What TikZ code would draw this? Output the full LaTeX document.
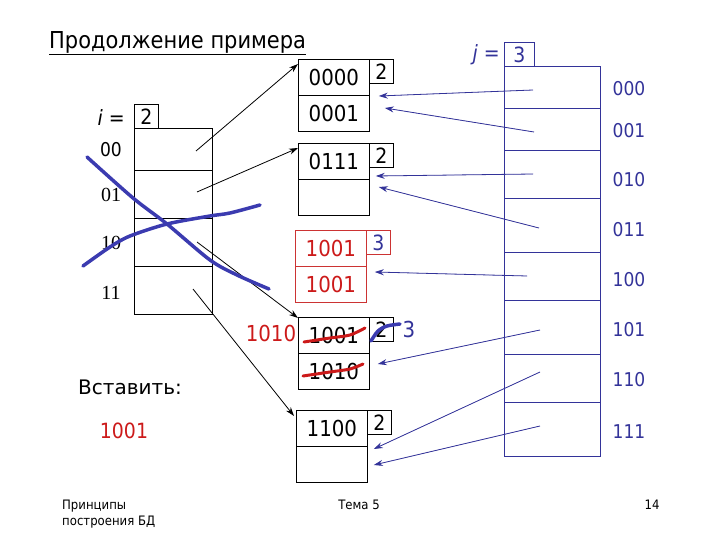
\documentclass[tikz,border=0pt]{standalone}
\usepackage{fontspec}
\setmainfont{DejaVu Sans}
\newfontfamily\numf[FakeStretch=0.9]{DejaVu Sans}
\newfontfamily\serf{Liberation Serif}
\usetikzlibrary{arrows.meta,calc}
\definecolor{navy}{HTML}{333399}
\definecolor{penc}{HTML}{3B3BB0}
\definecolor{redt}{HTML}{CC1A1A}
\definecolor{redb}{HTML}{CC3333}
\begin{document}
\begin{tikzpicture}[x=1pt,y=-1pt,
  cell/.style={draw, line width=0.8pt, minimum width=71pt, minimum height=36pt, inner sep=0pt, anchor=north west, font=\numf\fontsize{22}{22}\selectfont},
  tag/.style={draw, line width=0.8pt, minimum width=24pt, minimum height=24pt, inner sep=0pt, anchor=north west, font=\numf\fontsize{21}{21}\selectfont},
  dcell/.style={draw, line width=0.8pt, minimum width=78pt, inner sep=0pt, anchor=north west},
  rcell/.style={draw=navy, line width=0.8pt, minimum width=96pt, inner sep=0pt, anchor=north west},
  rlab/.style={text=navy, font=\numf\fontsize{19}{19}\selectfont},
  llab/.style={font=\serf\fontsize{20}{20}\selectfont},
  slab/.style={font=\numf\fontsize{19}{19}\selectfont},
  ptr/.style={line width=0.8pt, -{Stealth[length=9pt,width=6pt]}},
  bptr/.style={ptr, draw=navy, fill=navy},
  pen/.style={draw=penc, line width=3.5pt, line cap=round, line join=round},
  strike/.style={draw=redt, line width=3pt, line cap=round, line join=round},
  big/.style={font=\numf\fontsize{22}{22}\selectfont},
  small/.style={font=\numf\fontsize{13}{16}\selectfont}
]
\useasboundingbox (0,0) rectangle (720,540);

% title
\node[anchor=west, font=\numf\fontsize{23.3}{23}\selectfont, inner sep=0pt] (title) at (49,43) {\underline{Продолжение примера}};

% left directory
\node[tag] (gi) at (134,104) {2};
\node[anchor=east, font=\numf\fontsize{21}{21}\selectfont, inner sep=0pt] (ilab) at (125,118) {\textit{i} =};
\node[dcell, minimum height=42pt] (L0) at (134,128) {};
\node[dcell, minimum height=48pt] (L1) at (134,170) {};
\node[dcell, minimum height=48pt] (L2) at (134,218) {};
\node[dcell, minimum height=48pt] (L3) at (134,266) {};
\node[slab] (l00) at (111,150) {00};
\node[llab] (l01) at (111,195) {01};
\node[llab] (l10) at (111,243) {10};
\node[llab] (l11) at (111,293) {11};

% buckets
\node[cell] (A1) at (298,59) {0000};
\node[cell] (A2) at (298,95) {0001};
\node[tag] (At) at (369,59) {2};

\node[cell] (B1) at (298,143) {0111};
\node[cell] (B2) at (298,179) {};
\node[tag] (Bt) at (369,143) {2};

\node[cell, draw=redb, text=redt] (C1) at (295,230) {1001};
\node[cell, draw=redb, text=redt] (C2) at (295,266) {1001};
\node[tag, draw=redb, text=navy] (Ct) at (366,230) {3};

\node[cell] (D1) at (298,317) {1001};
\node[cell] (D2) at (298,353) {1010};
\node[tag] (Dt) at (369,317) {2};

\node[cell] (E1) at (296,410) {1100};
\node[cell] (E2) at (296,446) {};
\node[tag] (Et) at (367,410) {2};

\node[big, text=redt] (ins1010) at (271,333) {1010};
\node[big, text=navy] (new3) at (409,329) {3};

% right directory
\node[tag, draw=navy, text=navy, minimum width=30pt, minimum height=24pt] (gj) at (504,42) {3};
\node[anchor=east, font=\numf\fontsize{21}{21}\selectfont, text=navy, inner sep=0pt] (jlab) at (500,55) {\textit{j} =};
\node[rcell, minimum height=42pt] (R0) at (504,66) {};
\node[rcell, minimum height=42pt] (R1) at (504,108) {};
\node[rcell, minimum height=48pt] (R2) at (504,150) {};
\node[rcell, minimum height=54pt] (R3) at (504,198) {};
\node[rcell, minimum height=48pt] (R4) at (504,252) {};
\node[rcell, minimum height=54pt] (R5) at (504,300) {};
\node[rcell, minimum height=48pt] (R6) at (504,354) {};
\node[rcell, minimum height=54pt] (R7) at (504,402) {};
\node[rlab] (r000) at (629,89) {000};
\node[rlab] (r001) at (629,131) {001};
\node[rlab] (r010) at (629,180) {010};
\node[rlab] (r011) at (629,230) {011};
\node[rlab] (r100) at (629,280) {100};
\node[rlab] (r101) at (629,330) {101};
\node[rlab] (r110) at (629,380) {110};
\node[rlab] (r111) at (629,432) {111};

% black pointers
\coordinate (s0) at (196,151);
\coordinate (s1) at (197,192);
\coordinate (s2) at (197,242);
\coordinate (s3) at (193,289);
\draw[ptr] (s0) -- ([yshift=-5pt]A1.north west);
\draw[ptr] (s1) -- ([yshift=-5pt]B1.north west);
\draw[ptr] (s2) -- ([yshift=-1pt]D1.north west);
\draw[ptr] (s3) -- ([xshift=-2pt,yshift=-6pt]E1.north west);

% blue pointers
\coordinate (t0) at (533,90);
\coordinate (t1) at (534,132);
\coordinate (t2) at (533,174);
\coordinate (t3) at (539,228);
\coordinate (t4) at (527,276);
\coordinate (t5) at (540,330);
\coordinate (t6) at (540,372);
\coordinate (t7) at (540,426);
\draw[bptr] (t0) -- ($(A2.north east)+(9,1)$);
\draw[bptr] (t1) -- ($(A2.north east)+(15,13)$);
\draw[bptr] (t2) -- ($(B2.north east)+(6,-3)$);
\draw[bptr] (t3) -- ($(B2.north east)+(9,8)$);
\draw[bptr] (t4) -- ($(C2.north east)+(8,6)$);
\draw[bptr] (t5) -- ($(D2.north east)+(8,11)$);
\draw[bptr] (t6) -- ($(E2.north east)+(6,3)$);
\draw[bptr] (t7) -- ($(E2.north east)+(6,19)$);

% red strike-outs
\draw[strike] plot[smooth] coordinates {(304,342) (330,338) (350,335) (365,328)};
\draw[strike] plot[smooth] coordinates {(303,376) (330,372) (350,369) (363,364)};

% hand-drawn blue strokes
\draw[pen] plot[smooth] coordinates {(87,157) (133,198) (167,224) (210,260) (237,275) (269,289)};
\draw[pen] plot[smooth] coordinates {(83,266) (110,247) (130,236) (167,224) (210,216) (230,213) (260,205)};
\draw[pen] plot[smooth] coordinates {(371,341) (378,331) (387,326) (400,324)};

% bottom texts
\node[font=\fontsize{20}{20}\selectfont] (ins) at (130,387) {Вставить:};
\node[font=\numf\fontsize{21}{21}\selectfont, text=redt] (key) at (124,431) {1001};
\node[small, anchor=west, align=left, inner sep=0pt] (foot) at (62,514) {Принципы\\построения БД};
\node[small] (topic) at (359,505) {Тема 5};
\node[small] (page) at (652,505) {14};
\end{tikzpicture}
\end{document}
